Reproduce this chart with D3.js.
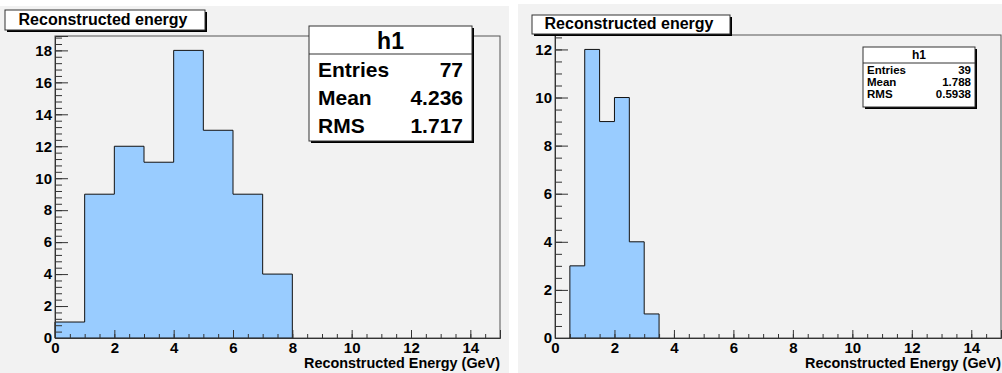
<!DOCTYPE html>
<html lang="en">
<head>
<meta charset="utf-8">
<title>Reconstructed energy</title>
<script src="https://cdn.jsdelivr.net/npm/d3@7"></script>
<style>
  body { margin: 0; background: #fff; }
  svg text { font-family: "Liberation Sans", Arial, sans-serif; font-weight: bold; fill: #000; }
</style>
</head>
<body>
<script>
// left histogram: bins of width 1 GeV
var binsLeft = [0, 1, 2, 3, 4, 5, 6, 7];
var countsLeft = [1, 9, 12, 11, 18, 13, 9, 4];
// right histogram: bins of width 0.5 GeV
var binsRight = [0.5, 1, 1.5, 2, 2.5, 3];
var countsRight = [3, 12, 9, 10, 4, 1];

var statNames = ["Entries", "Mean", "RMS"];
var statsLeft = ["77", "4.236", "1.717"];
var statsRight = ["39", "1.788", "0.5938"];

var histTitle = "Reconstructed energy";
var xTitle = "Reconstructed Energy (GeV)";
var xTicks = [0, 2, 4, 6, 8, 10, 12, 14];

var w = 1002, h = 373;
var svg = d3.select("body").append("svg").attr("width", w).attr("height", h);

function drawPanel(p) {
  var g = svg.append("g");
  // pad background
  g.append("rect").attr("x", p.padX).attr("y", p.padY)
    .attr("width", p.padW).attr("height", h - p.padY).attr("fill", "#f2f2f2");

  var x = d3.scaleLinear().domain([0, 15]).range([p.x0, p.x1]);
  var y = d3.scaleLinear().domain([0, d3.max(p.counts) * 1.05]).range([p.y1, p.y0]);

  // frame
  g.append("rect").attr("x", p.x0).attr("y", p.y0)
    .attr("width", p.x1 - p.x0).attr("height", p.y1 - p.y0)
    .attr("fill", "none").attr("stroke", "#555").attr("stroke-width", 1);

  // histogram as step contour
  var pts = [];
  p.bins.forEach(function (b, i) {
    pts.push([x(b), y(p.counts[i])]);
    pts.push([x(b + p.width), y(p.counts[i])]);
  });
  var first = p.bins[0], last = p.bins[p.bins.length - 1] + p.width;
  pts.unshift([x(first), y(0)]);
  pts.push([x(last), y(0)]);
  g.append("path").attr("d", d3.line()(pts) + "Z")
    .attr("fill", "#99ccff").attr("stroke", "#111").attr("stroke-width", 1);

  // x axis
  var xMinor = d3.range(0, 15.01, 0.5);
  g.append("g").attr("transform", "translate(0," + p.y1 + ")")
    .call(d3.axisBottom(x).tickValues(xMinor).tickSize(-4).tickFormat(""))
    .call(function (a) { a.select(".domain").remove(); a.selectAll("line").attr("stroke", "#333"); });
  g.append("g").attr("transform", "translate(0," + p.y1 + ")")
    .call(d3.axisBottom(x).tickValues(xTicks).tickSize(-8).tickPadding(4).tickFormat(d3.format("d")))
    .call(function (a) {
      a.select(".domain").attr("stroke", "#333");
      a.selectAll("line").attr("stroke", "#333");
      a.selectAll("text").style("font-size", "15px").attr("dy", "0.72em");
    });

  // y axis
  var ymax = y.domain()[1];
  var yMinor = d3.range(0, ymax, p.yMinorStep);
  var yMajor = d3.range(0, ymax, 2);
  g.append("g").attr("transform", "translate(" + p.x0 + ",0)")
    .call(d3.axisLeft(y).tickValues(yMinor).tickSize(-7).tickFormat(""))
    .call(function (a) { a.select(".domain").remove(); a.selectAll("line").attr("stroke", "#333"); });
  g.append("g").attr("transform", "translate(" + p.x0 + ",0)")
    .call(d3.axisLeft(y).tickValues(yMajor).tickSize(-13).tickPadding(3).tickFormat(d3.format("d")))
    .call(function (a) {
      a.select(".domain").attr("stroke", "#333");
      a.selectAll("line").attr("stroke", "#333");
      a.selectAll("text").style("font-size", "15px").attr("text-anchor", "end");
    });

  // axis title
  g.append("text").attr("x", p.x1).attr("y", 368).attr("text-anchor", "end")
    .style("font-size", "14.4px").text(xTitle);

  // title box
  var t = p.title;
  g.append("rect").attr("x", t.x + 2).attr("y", t.y + 2).attr("width", t.w).attr("height", t.h).attr("fill", "#000");
  g.append("rect").attr("x", t.x).attr("y", t.y).attr("width", t.w).attr("height", t.h)
    .attr("fill", "#fff").attr("stroke", "#333").attr("stroke-width", 1);
  g.append("text").attr("x", t.x + t.w / 2 - 2).attr("y", t.y + t.h - 5).attr("text-anchor", "middle")
    .style("font-size", "16px").text(histTitle);

  // stats box
  var s = p.stats;
  g.append("rect").attr("x", s.x + 2).attr("y", s.y + 2).attr("width", s.w).attr("height", s.h).attr("fill", "#000");
  g.append("rect").attr("x", s.x).attr("y", s.y).attr("width", s.w).attr("height", s.h)
    .attr("fill", "#fff").attr("stroke", "#333").attr("stroke-width", 1);
  g.append("line").attr("x1", s.x).attr("x2", s.x + s.w).attr("y1", s.y + s.head).attr("y2", s.y + s.head)
    .attr("stroke", "#333");
  g.append("text").attr("x", s.x + s.w / 2).attr("y", s.titleBase).attr("text-anchor", "middle")
    .style("font-size", s.titleSize + "px").text("h1");
  statNames.forEach(function (n, i) {
    g.append("text").attr("x", s.x + s.pad).attr("y", s.base[i])
      .style("font-size", s.fontSize + "px").text(n);
    g.append("text").attr("x", s.x + s.w - s.pad).attr("y", s.base[i]).attr("text-anchor", "end")
      .style("font-size", s.fontSize + "px").text(p.stats.values[i]);
  });
}

drawPanel({
  padX: 0, padY: 6, padW: 509,
  x0: 55, x1: 500, y0: 36, y1: 338,
  bins: binsLeft, counts: countsLeft, width: 1, yMinorStep: 0.4,
  title: { x: 5, y: 10, w: 200, h: 20 },
  stats: { x: 309, y: 26, w: 163, h: 115, head: 28, titleBase: 49, titleSize: 23,
           fontSize: 21, pad: 9, base: [77, 105, 133], values: statsLeft }
});

drawPanel({
  padX: 518, padY: 4, padW: 484,
  x0: 555, x1: 1001, y0: 35, y1: 338,
  bins: binsRight, counts: countsRight, width: 0.5, yMinorStep: 0.5,
  title: { x: 532, y: 15, w: 198, h: 19 },
  stats: { x: 863, y: 47, w: 112, h: 60, head: 16, titleBase: 59, titleSize: 12,
           fontSize: 11.5, pad: 4, base: [74, 86, 98], values: statsRight }
});
</script>
</body>
</html>
